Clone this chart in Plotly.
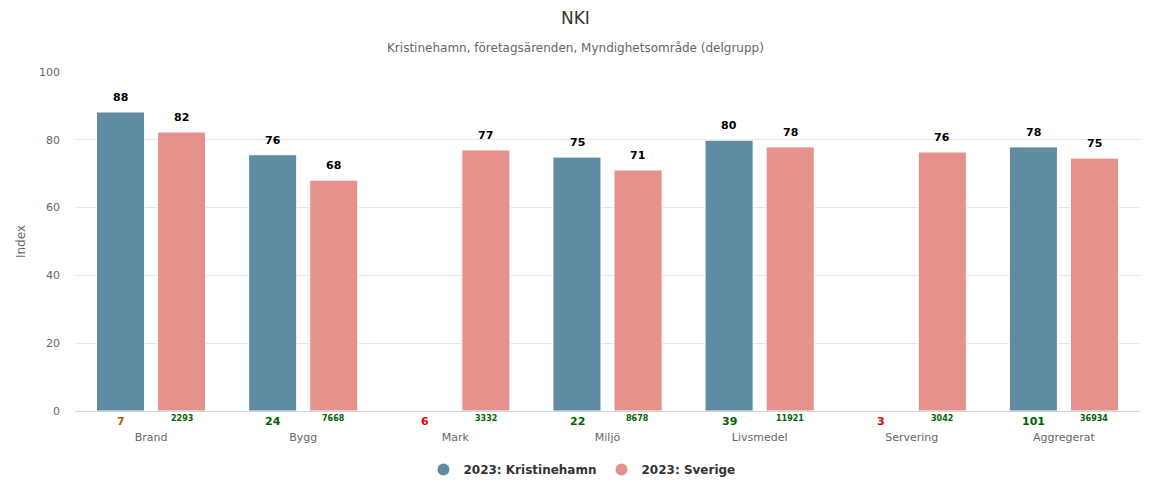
import plotly.graph_objects as go

categories = ["Brand", "Bygg", "Mark", "Miljö", "Livsmedel", "Servering", "Aggregerat"]
kristinehamn = [88.2, 75.6, None, 74.9, 79.9, None, 77.9]
sverige = [82.3, 68.1, 77.0, 71.1, 77.9, 76.4, 74.6]
kristinehamn_n = [7, 24, 6, 22, 39, 3, 101]
kristinehamn_n_colors = ["#b35c00", "#006400", "#e00000", "#006400", "#006400", "#e00000", "#006400"]
sverige_n = [2293, 7668, 3332, 8678, 11921, 3042, 36934]
sverige_n_colors = ["#006400"] * 7
series_names = ["2023: Kristinehamn", "2023: Sverige"]
yticks = [0, 20, 40, 60, 80, 100]
title_text = "NKI"
subtitle_text = "Kristinehamn, företagsärenden, Myndighetsområde (delgrupp)"

FONT = "DejaVu Sans, Verdana, sans-serif"
BLUE = "#5f8ca3"
PINK = "#e5928c"

xs = list(range(len(categories)))
offset = 0.2

fig = go.Figure()
for vals, name, color in [(kristinehamn, series_names[0], BLUE), (sverige, series_names[1], PINK)]:
    fig.add_trace(go.Bar(
        x=xs, y=vals, name=name, showlegend=False,
        marker=dict(color=color, line=dict(color="white", width=1)),
    ))
# legend entries with circle symbols
for name, color in [(series_names[0], BLUE), (series_names[1], PINK)]:
    fig.add_trace(go.Scatter(
        x=[None], y=[None], mode="markers", name=name,
        marker=dict(color=color, size=12, symbol="circle"),
    ))

for i, x in enumerate(xs):
    for vals, dx in [(kristinehamn, -offset), (sverige, offset)]:
        v = vals[i]
        if v is not None:
            fig.add_annotation(
                x=x + dx, y=v, xref="x", yref="y", yanchor="bottom", yshift=6,
                text=f"<b>{round(v)}</b>", showarrow=False,
                font=dict(family=FONT, size=11, color="black"),
            )
    fig.add_annotation(
        x=x - offset, y=0, xref="x", yref="y", yanchor="top", yshift=-2,
        text=f"<b>{kristinehamn_n[i]}</b>", showarrow=False,
        font=dict(family=FONT, size=11, color=kristinehamn_n_colors[i]),
    )
    fig.add_annotation(
        x=x + offset, y=0, xref="x", yref="y", yanchor="top", yshift=-1,
        text=f"<b>{sverige_n[i]}</b>", showarrow=False,
        font=dict(family=FONT, size=8, color=sverige_n_colors[i]),
    )

fig.update_layout(
    width=1150, height=500,
    margin=dict(l=75, r=10, t=72, b=89),
    paper_bgcolor="white", plot_bgcolor="white",
    barmode="group", bargap=0.197, bargroupgap=0.213,
    font=dict(family=FONT, color="#666666"),
    showlegend=True,
    legend=dict(
        orientation="h", x=0.476, xanchor="center", y=-0.13, yanchor="top",
        font=dict(family=FONT, size=12, color="#333333", weight="bold"),
        itemsizing="constant",
    ),
    xaxis=dict(
        tickmode="array", tickvals=xs, ticktext=categories,
        range=[-0.5, len(categories) - 0.5],
        showgrid=False, showline=True, linecolor="#ccd6eb", linewidth=1,
        ticks="", ticklabelstandoff=16,
        tickfont=dict(family=FONT, size=11, color="#666666"),
    ),
    yaxis=dict(
        range=[0, 100], tickmode="array", tickvals=yticks,
        showgrid=True, gridcolor="#e6e6e6", zeroline=False,
        tickfont=dict(family=FONT, size=11, color="#666666"),
        ticklabelstandoff=14,
        title=dict(text="Index", font=dict(family=FONT, size=12, color="#666666"), standoff=10),
    ),
)

# title and subtitle placed in paper coordinates (plot area spans x 75..1140, y 72..411)
plot_h = 500 - 72 - 89
plot_w = 1150 - 75 - 10
def paper_y(px):
    return (411 - px) / plot_h
title_x = (575 - 75) / plot_w

fig.add_annotation(
    x=title_x, xref="paper", y=paper_y(18), yref="paper", yanchor="middle",
    text=title_text, showarrow=False,
    font=dict(family=FONT, size=17, color="#333333"),
)
fig.add_annotation(
    x=title_x, xref="paper", y=paper_y(48), yref="paper", yanchor="middle",
    text=subtitle_text, showarrow=False,
    font=dict(family=FONT, size=12, color="#666666"),
)

fig.write_html("out.html", config={"displayModeBar": False},
               post_script="document.body.style.margin='0';")
